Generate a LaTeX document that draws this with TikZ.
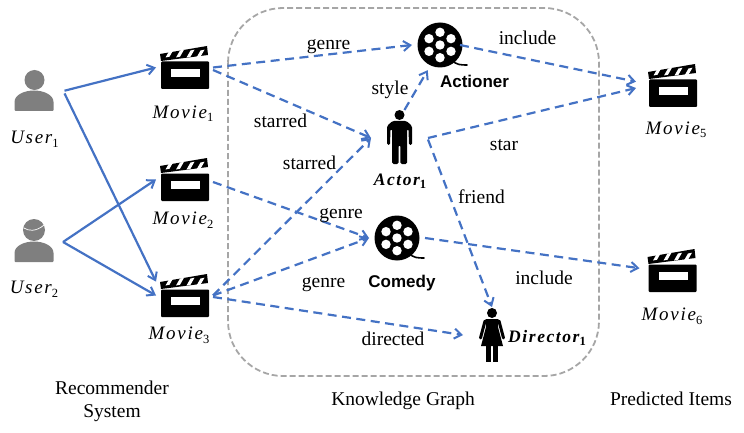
\documentclass[tikz,border=0pt]{standalone}
\usepackage{fontspec}
\setmainfont{Liberation Serif}
\newfontfamily\labelsans{Liberation Sans}
\newfontfamily\varfont[LetterSpace=9]{Liberation Serif}
\newcommand{\varname}[2]{{\varfont\itshape #1\raisebox{-3.5pt}{\fontsize{12.5}{13}\selectfont\upshape #2}}}
\usetikzlibrary{arrows.meta}
\definecolor{linkblue}{HTML}{4472C4}
\definecolor{usergrey}{HTML}{7F7F7F}
\definecolor{framegrey}{HTML}{A6A6A6}
\tikzset{
 solidlink/.style={draw=linkblue,line width=2.2pt,-{Straight Barb[length=7pt,width=10pt,line width=2pt]}},
 dashlink/.style={solidlink,dash pattern=on 9pt off 5.5pt},
 lbl/.style={font=\fontsize{19.5}{22}\selectfont,inner sep=0pt,anchor=base,yshift=-1pt},
 mlbl/.style={font=\fontsize{19}{22}\selectfont,inner sep=0pt,anchor=base,yshift=-1.5pt},
 blbl/.style={font=\fontsize{17.5}{20}\selectfont\bfseries,inner sep=0pt,anchor=base},
 slbl/.style={font=\labelsans\bfseries\fontsize{17}{20}\selectfont,inner sep=0pt,anchor=base},
 iconbox/.style={minimum width=#1,minimum height=43pt,inner sep=0pt,outer sep=0pt},
 reelbox/.style={circle,minimum size=56pt,inner sep=0pt,outer sep=0pt},
 clapper/.pic={
  \fill [black,rounded corners=1pt] (-23.5,-6) rectangle (24.5,21.5);
  \fill [white] (-13.5,1.5) rectangle (15.5,9.5);
  \fill [black] (-24.5,-13.5) -- (22.5,-21.5) -- (23.5,-12.5) -- (-23.5,-6.5) -- cycle;
  \foreach \s in {-16,-5.5,5,15} \fill [white] (\s-3,-10) -- (\s+1,-17) -- (\s+5,-17.8) -- (\s+1,-10.8) -- cycle;
 },
 reel/.pic={
  \fill [black] (0,0) circle (22.5);
  \foreach \a in {30,90,...,330} \fill [white] (\a:12.7) circle (4.7);
  \fill [white] (0,0) circle (4.7);
  \draw [black,line width=1.6pt,line cap=round] (12,15) .. controls (16,20) and (21,20) .. (27,20);
 },
 userbody/.pic={
  \fill [usergrey] (-19.5,15) -- (-19.5,7) .. controls (-19.5,0) and (-10,-4.5) .. (0,-4.5) .. controls (10,-4.5) and (19.5,0) .. (19.5,7) -- (19.5,15) -- (18.5,16) -- (-18.5,16) -- cycle;
 },
 man/.pic={
  \fill [black] (0,0) circle (5);
  \fill [black,rounded corners=1.5pt] (-7,6) -- (7,6) -- (12.5,11) -- (12.5,30) -- (9.5,30) -- (9,14) -- (7.5,14) -- (7.5,49) -- (0.8,49) -- (0.8,30) -- (-0.8,30) -- (-0.8,49) -- (-7.5,49) -- (-7.5,14) -- (-9,14) -- (-9.5,30) -- (-12.5,30) -- (-12.5,11) -- cycle;
 },
 woman/.pic={
  \fill [black] (0,0) circle (5);
  \fill [black] (-6.5,6) -- (6.5,6) -- (6,14) -- (11,33) -- (-11,33) -- (-6,14) -- cycle;
  \draw [black,line width=3pt,line cap=round] (7,8) -- (11.5,25);
  \draw [black,line width=3pt,line cap=round] (-7,8) -- (-11.5,25);
  \fill [black] (-6,33) rectangle (-0.8,49);
  \fill [black] (0.8,33) rectangle (6,49);
 }
}
\begin{document}
\begin{tikzpicture}[x=1pt,y=-1pt]
\useasboundingbox (0,0) rectangle (744,433);

\draw [framegrey,line width=1.8pt,dash pattern=on 6pt off 3pt,rounded corners=55pt] (228,8) rectangle (599,376);

\node (u1) at (34,95) [iconbox=61pt] {};
\node (u2) at (34,242) [iconbox=58pt] {};
\node (m1) at (184.5,67.5) [iconbox=57pt] {};
\node (m2) at (184.5,179.5) [iconbox=57pt] {};
\node (m3) at (184.5,295.5) [iconbox=57pt] {};
\node (m5) at (672.5,85.5) [iconbox=73pt] {};
\node (m6) at (672,270.5) [iconbox=65pt] {};
\node (act) at (440,45) [reelbox] {};
\node (com) at (397,238) [reelbox] {};
\node (star) at (399.5,138) [iconbox=57pt,minimum height=56pt] {};
\node (dir) at (492,335) [iconbox=58pt,minimum height=56pt] {};

\fill [usergrey] (34.5,80) circle (10);
\pic at (u1) {userbody};
\fill [usergrey] (34,230) circle (11);
\pic at (34,246) {userbody};
\draw [white,line width=0.7pt] (24,228) .. controls (28,231) and (36,232) .. (44,225);
\pic at (m1) {clapper};
\pic at (m2) {clapper};
\pic at (m3) {clapper};
\pic at (m5) {clapper};
\pic at (m6) {clapper};
\pic at (act) {reel};
\pic at (com) {reel};
\pic at (399.5,115) {man};
\pic at (492,313) {woman};

\draw [solidlink] (u1.8) -- (m1.west);
\draw [solidlink] (u1.3) -- (m3.154);
\draw [solidlink] (u2.east) -- (m2.west);
\draw [solidlink] (u2.east) -- (m3.west);

\draw [dashlink] (m1.east) -- (act.west);
\draw [dashlink] (m1.-5) -- (star.west);
\draw [dashlink] (m3.east) -- (star.west);
\draw [dashlink] (m2.-5) -- (com.west);
\draw [dashlink] (m3.east) -- (com.west);
\draw [dashlink] (m3.-3) -- (dir.west);
\draw [dashlink] (star.80) -- (act.244);
\draw [dashlink] ([xshift=-8pt]act.east) -- (m5.174);
\draw [dashlink] (star.east) -- (m5.184);
\draw [dashlink] (star.-3) -- (dir.north);
\draw [dashlink] (com.east) -- (m6.176);

\node (g1) at (328.5,49) [lbl] {genre};
\node (g2) at (341,217) [lbl] {genre};
\node (g3) at (323.5,286) [lbl] {genre};
\node (st) at (390,94) [lbl] {style};
\node (in1) at (527.5,44) [lbl] {include};
\node (in2) at (544,283) [lbl] {include};
\node (sr1) at (280.5,127) [lbl] {starred};
\node (sr2) at (309.5,168) [lbl] {starred};
\node (sa) at (504,149) [lbl] {star};
\node (fr) at (481.5,202) [lbl] {friend};
\node (dr) at (393,344) [lbl] {directed};
\node (tact) at (474.5,88) [slbl] {Actioner};
\node (tcom) at (402,287) [slbl] {Comedy};
\node (tu1) at (34.5,142) [mlbl] {\varname{User}{1}};
\node (tu2) at (34,292) [mlbl] {\varname{User}{2}};
\node (tm1) at (183,117) [mlbl] {\varname{Movie}{1}};
\node (tm2) at (183,223) [mlbl] {\varname{Movie}{2}};
\node (tm3) at (179,338) [mlbl] {\varname{Movie}{3}};
\node (tm5) at (676,133) [mlbl] {\varname{Movie}{5}};
\node (tm6) at (672,319) [mlbl] {\varname{Movie}{6}};
\node (tstar) at (400,185) [blbl] {\varname{Actor}{1}};
\node (tdir) at (547,342) [blbl] {\varname{Director}{1}};
\node (rs1) at (112,393) [lbl] {Recommender};
\node (rs2) at (112,416) [lbl] {System};
\node (kg) at (403,404) [lbl] {Knowledge Graph};
\node (pi) at (671,404) [lbl] {Predicted Items};
\end{tikzpicture}
\end{document}
